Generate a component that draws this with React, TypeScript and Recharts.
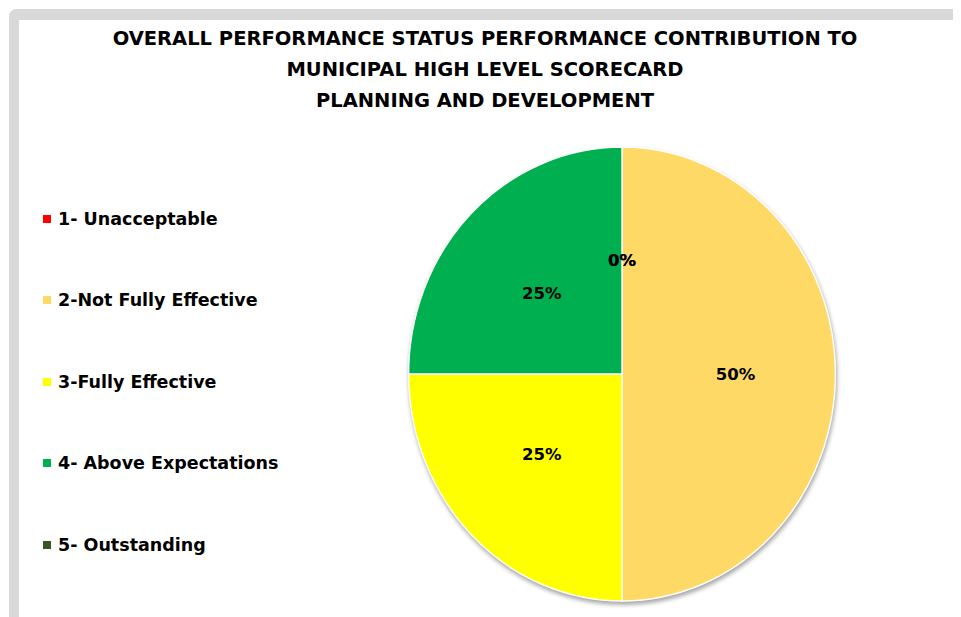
import React from 'react';
import { PieChart, Pie, Cell, Legend } from 'recharts';

const categories = ['1- Unacceptable', '2-Not Fully Effective', '3-Fully Effective', '4- Above Expectations', '5- Outstanding'];
const shares = [0, 50, 25, 25, 0];
const colors = ['#FF0000', '#FFD966', '#FFFF00', '#00B050', '#375623'];
const titleLines = [
  'OVERALL PERFORMANCE STATUS PERFORMANCE CONTRIBUTION TO',
  'MUNICIPAL HIGH LEVEL SCORECARD',
  'PLANNING AND DEVELOPMENT',
];

const data = categories.map((name, i) => ({ name, value: shares[i] }));

const FONT = '"DejaVu Sans", sans-serif';
const LEGEND_W = 300;
const CX = 614;
const CY = 366;

const RADIAN = Math.PI / 180;

// the original pie is a little squashed sideways, and has a soft shadow
const css = `
.perf-pie .recharts-pie { transform: scale(0.94, 1); transform-origin: ${CX}px ${CY}px; }
.perf-pie g:has(> .recharts-pie-sector) { filter: drop-shadow(1px 3px 2px rgba(0,0,0,0.35)); }
`;

const renderLabel = (props: any) => {
  const { cx, cy, midAngle, outerRadius, percent } = props;
  const r = outerRadius * 0.5;
  const x = cx + r * Math.cos(-midAngle * RADIAN);
  const y = cy + r * Math.sin(-midAngle * RADIAN);
  return (
    <text x={x} y={y} textAnchor="middle" dominantBaseline="central" fill="#000" fontSize={16.5} fontWeight="bold" fontFamily={FONT}>
      {`${Math.round(percent * 100)}%`}
    </text>
  );
};

const LegendContent = (props: any) => {
  const { payload } = props;
  return (
    <div>
      {(payload || []).map((entry: any, i: number) => (
        <div key={i} style={{ height: 81.5, display: 'flex', alignItems: 'center', fontFamily: FONT, fontWeight: 'bold', fontSize: 17.5, color: '#000', whiteSpace: 'nowrap' }}>
          <span style={{ display: 'inline-block', width: 8, height: 8, background: entry.color, marginRight: 7 }} />
          {entry.value}
        </div>
      ))}
    </div>
  );
};

const App: React.FC = () => {
  return (
    <div className="perf-pie" style={{ position: 'relative', width: 953, height: 609, overflow: 'hidden', background: '#fff' }}>
      <style>{css}</style>
      <div style={{ position: 'absolute', left: 1, top: 1, width: 1200, height: 900, borderTop: '11px solid #d9d9d9', borderLeft: '10px solid #d9d9d9', borderTopLeftRadius: 8, boxSizing: 'border-box' }} />
      <div style={{ position: 'absolute', left: 0, top: 15, width: 954, textAlign: 'center', fontFamily: FONT, fontWeight: 'bold', fontSize: 19.5, lineHeight: '31px', color: '#000' }}>
        {titleLines.map((t, i) => (
          <div key={i}>{t}</div>
        ))}
      </div>
      <div style={{ position: 'absolute', left: 0, top: 0 }}>
        <PieChart width={953} height={609}>
          <Pie
            data={data}
            dataKey="value"
            nameKey="name"
            cx={CX - 5 - LEGEND_W}
            cy={CY - 5}
            outerRadius={227}
            startAngle={90}
            endAngle={-270}
            stroke="#fff"
            strokeWidth={1.5}
            label={renderLabel}
            labelLine={false}
            isAnimationActive={false}
          >
            {data.map((d, i) => (
              <Cell key={d.name} fill={colors[i]} />
            ))}
          </Pie>
          <Legend
            layout="vertical"
            align="left"
            verticalAlign="top"
            content={<LegendContent />}
            wrapperStyle={{ left: 35, top: 170, width: LEGEND_W }}
          />
        </PieChart>
      </div>
    </div>
  );
};

export default App;
